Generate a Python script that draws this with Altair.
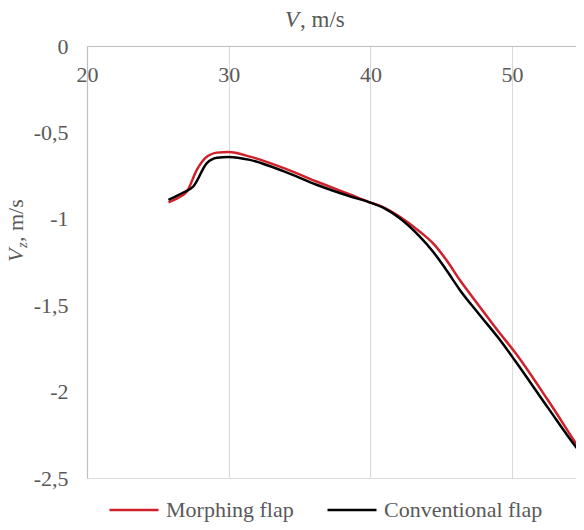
import altair as alt
import pandas as pd

# Data
series_names = ["Morphing flap", "Conventional flap"]

morph_v = [25.75, 26.5, 27.05, 27.75, 28.34, 29.17, 30.0, 31.5, 33.9, 36.2, 38.6, 40.0,
           40.7, 42.05, 43.47, 44.41, 45.35, 46.3, 47.7, 49.12, 50.2, 52.5, 55.1, 56.0]
morph_vz = [-0.905, -0.875, -0.842, -0.717, -0.649, -0.617, -0.613, -0.640, -0.707, -0.784,
            -0.861, -0.906, -0.925, -0.987, -1.073, -1.141, -1.237, -1.353, -1.507, -1.661,
            -1.772, -2.046, -2.374, -2.48]

conv_v = [25.75, 26.7, 27.5, 28.46, 29.17, 30.0, 31.5, 33.9, 36.2, 38.6, 40.0, 41.0,
          42.05, 43.47, 44.41, 45.35, 46.3, 47.7, 49.12, 50.2, 52.5, 54.6, 55.1, 56.0]
conv_vz = [-0.89, -0.852, -0.813, -0.678, -0.647, -0.642, -0.659, -0.726, -0.803, -0.871,
           -0.906, -0.94, -0.996, -1.102, -1.189, -1.295, -1.41, -1.555, -1.699, -1.82,
           -2.09, -2.33, -2.38, -2.48]

x_ticks = [20, 30, 40, 50]
y_ticks = [0, -0.5, -1, -1.5, -2, -2.5]

df = pd.concat([
    pd.DataFrame({"V": morph_v, "Vz": morph_vz, "series": series_names[0]}),
    pd.DataFrame({"V": conv_v, "Vz": conv_vz, "series": series_names[1]}),
])

FONT = "Liberation Serif"
GRAY = "#595959"
RED = "#d0202a"
FS = 22

lines = alt.Chart(df).mark_line(clip=True, strokeWidth=2.5, interpolate="monotone").encode(
    x=alt.X("V:Q",
            scale=alt.Scale(domain=[20, 54.51], nice=False, zero=False),
            axis=alt.Axis(orient="top", values=x_ticks, title=None, grid=True,
                          gridColor="#d9d9d9", gridWidth=1, domainColor="#bfbfbf",
                          domainWidth=1.2, ticks=False, labelPadding=-28,
                          labelBaseline="middle", labelFont=FONT, labelFontSize=FS,
                          labelColor=GRAY, labelFlush=False, labelOverlap=False)),
    y=alt.Y("Vz:Q",
            scale=alt.Scale(domain=[-2.5, 0], nice=False, zero=False),
            axis=alt.Axis(values=y_ticks, title=None, grid=False, domainColor="#bfbfbf",
                          domainWidth=1.2, ticks=False, labelPadding=19,
                          labelExpr="replace(toString(datum.value), '.', ',')",
                          labelFont=FONT, labelFontSize=FS, labelColor=GRAY,
                          labelOverlap=False, labelFlush=False)),
    color=alt.Color("series:N",
                    scale=alt.Scale(domain=series_names, range=[RED, "#000000"]),
                    legend=alt.Legend(orient="none", legendX=21, legendY=438,
                                      direction="horizontal", title=None,
                                      symbolType="stroke", symbolSize=2401,
                                      symbolStrokeWidth=2.5, labelFont=FONT,
                                      labelFontSize=FS, labelColor=GRAY,
                                      columnPadding=28, padding=0, labelOffset=6)),
)

def txt(s, x, y, size=FS, italic=False, angle=0):
    kw = dict(text=s, font=FONT, fontSize=size, color=GRAY, align="left",
              baseline="alphabetic")
    if italic:
        kw["fontStyle"] = "italic"
    if angle:
        kw["angle"] = angle
    return alt.Chart(pd.DataFrame({"a": [0]})).mark_text(**kw).encode(
        x=alt.value(x), y=alt.value(y))

x_title_v = txt("V", 198, -19, size=23, italic=True)
x_title_rest = txt(", m/s", 213, -19, size=23)
y_title_v = txt("V", -64, 216, size=22, italic=True, angle=270)
y_title_z = txt("z", -60, 202, size=15, italic=True, angle=270)
y_title_rest = txt(", m/s", -64, 196, size=22, angle=270)

chart = alt.layer(lines, x_title_v, x_title_rest, y_title_v, y_title_z, y_title_rest).properties(
    width=489, height=432,
    autosize=alt.AutoSizeParams(type="none"),
    padding={"left": 79, "top": 38, "right": 0, "bottom": 44},
).configure_view(stroke=None).configure(background="white")

chart.save("out.html", embed_options={"renderer": "svg", "actions": False})
